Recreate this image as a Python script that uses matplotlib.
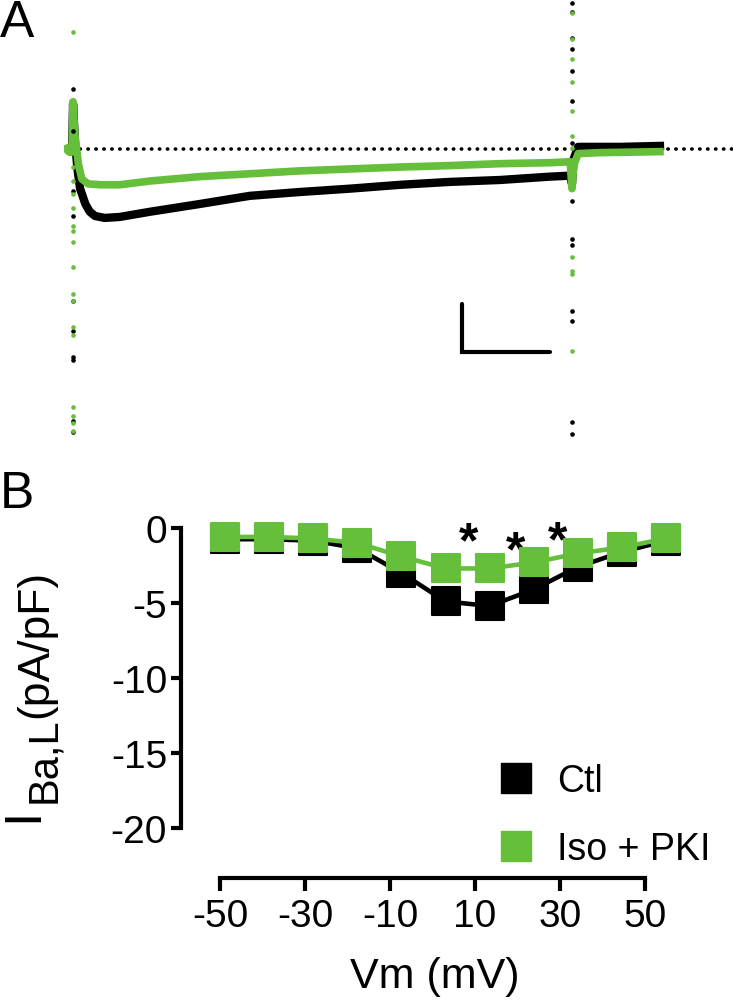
import matplotlib
matplotlib.use("Agg")
import matplotlib.pyplot as plt
from matplotlib.lines import Line2D
from matplotlib.markers import MarkerStyle

plt.rcParams['font.family'] = ['Liberation Sans', 'DejaVu Sans']
plt.rcParams['axes.unicode_minus'] = False

GREEN = '#66bf3a'

# ---- panel A: example current traces (time in ms, current in pA) ----
ctl_t = [-3, -1, 0, 2, 5, 8, 14, 19, 25, 36, 53, 88, 144, 201, 258, 315, 372, 428, 485, 542, 565, 567, 569, 574, 588, 622, 667]
ctl_i = [0, 0, 94, 21, -42, -83, -115, -131, -140, -144, -142, -131, -115, -98, -90, -83, -75, -69, -65, -58, -56, -73, -21, 4, 4, 4, 6]
iso_t = [-6, -1, 0, 2, 6, 10, 17, 31, 53, 88, 144, 201, 258, 315, 372, 428, 485, 542, 565, 567, 569, 574, 599, 667]
iso_i = [0, 0, 98, 31, -31, -63, -73, -75, -75, -67, -58, -52, -46, -42, -38, -35, -31, -29, -27, -83, -35, -10, -8, -6]

# capacitive artifact samples at the start and end of the step
on_t, off_t = 0, 567
ctl_on_art = [125, 38, -88, -140, -317, -379, -433, -440, -567, -590]
iso_on_art = [244, -38, -67, -94, -123, -160, -171, -194, -246, -302, -317, -371, -387, -538, -556, -571, -588]
ctl_off_art = [304, 285, 231, 208, 163, 100, 13, -108, -188, -200, -338, -358, -569, -594]
iso_off_art = [283, 229, 188, 140, 79, 27, 2, -225, -254, -260, -421]

bar_t0, bar_i0 = 442, -423
bar_ms, bar_pa = 100, 100

# ---- panel B: I-V relationship ----
vm = [-50, -40, -30, -20, -10, 0, 10, 20, 30, 40, 50]
ctl_iv = [-0.75, -0.75, -0.85, -1.35, -3.0, -4.9, -5.2, -4.1, -2.6, -1.6, -0.85]
iso_iv = [-0.6, -0.6, -0.7, -1.0, -1.9, -2.7, -2.7, -2.3, -1.7, -1.3, -0.7]
star_vm = [5.3, 15.8, 25.5]
star_i = [-1.0, -1.65, -0.95]
xticks = [-50, -30, -10, 10, 30, 50]
yticks = [0, -5, -10, -15, -20]

W, H = 733, 1003
fig = plt.figure(figsize=(W / 100, H / 100), dpi=100)

def fbox(x0, y0, x1, y1):
    # pixel box (top-left origin) -> figure fraction rect
    return [x0 / W, 1 - y1 / H, (x1 - x0) / W, (y1 - y0) / H]

# panel A
axa = fig.add_axes(fbox(0, 0, W, 470))
axa.set_xlim(-83, 750)
axa.set_ylim(-667, 312)
axa.axis('off')
axa.plot([8, 750], [0, 0], color='black', lw=2.6, ls=(0, (0.1, 2.1)), dash_capstyle='round')
axa.plot(ctl_t, ctl_i, color='black', lw=6, solid_joinstyle='round', zorder=2)
axa.plot(iso_t, iso_i, color=GREEN, lw=5.5, solid_joinstyle='round', zorder=3)
axa.scatter([on_t] * len(ctl_on_art), ctl_on_art, s=11, color='black', lw=0, zorder=4)
axa.scatter([on_t] * len(iso_on_art), iso_on_art, s=11, color=GREEN, lw=0, zorder=4)
axa.scatter([off_t] * len(ctl_off_art), ctl_off_art, s=11, color='black', lw=0, zorder=4)
axa.scatter([off_t] * len(iso_off_art), iso_off_art, s=11, color=GREEN, lw=0, zorder=4)
axa.scatter([-3], [0], s=90, color=GREEN, lw=0, zorder=5)
axa.plot([bar_t0, bar_t0, bar_t0 + bar_ms], [bar_i0 + bar_pa, bar_i0, bar_i0],
         color='black', lw=3, solid_capstyle='round', solid_joinstyle='miter')

# panel B - data axes with y axis
axb = fig.add_axes(fbox(181, 500, 690, 845))
axb.set_xlim(-59.98, 55.44)
axb.set_ylim(-21.07, 1.93)
for s in ['top', 'right', 'bottom']:
    axb.spines[s].set_visible(False)
axb.spines['left'].set_linewidth(3)
axb.spines['left'].set_bounds(-20, 0)
axb.set_yticks(yticks)
axb.set_yticklabels([str(v) for v in yticks])
axb.tick_params(axis='y', direction='out', length=7, width=3, labelsize=28, pad=3)
axb.set_xticks([])
axb.patch.set_visible(False)

sq = MarkerStyle('s', joinstyle='round')
axb.plot(vm, ctl_iv, color='black', lw=3.3, marker=sq, ms=20, mew=1.5, mec='black', mfc='black', zorder=3)
axb.plot(vm, iso_iv, color=GREEN, lw=3.3, marker=sq, ms=20, mew=1.5, mec=GREEN, mfc=GREEN, zorder=4)
for xv, yv in zip(star_vm, star_i):
    axb.text(xv, yv, '*', ha='center', va='center', fontsize=36, fontweight='bold', clip_on=False)

handles = [Line2D([], [], ls='none', marker=MarkerStyle('s', joinstyle='round'), ms=22, mew=1, color='black'),
           Line2D([], [], ls='none', marker=MarkerStyle('s', joinstyle='round'), ms=22, mew=1, color=GREEN)]
fig.legend(handles, ['Ctl', 'Iso + PKI'], loc='upper left', bbox_to_anchor=(497 / W, 1 - 764 / H),
           frameon=False, fontsize=27, handlelength=1.0, handletextpad=0.6, labelspacing=0.85,
           borderpad=0, borderaxespad=0)

# panel B - separate x axis (offset below the y axis)
axx = fig.add_axes(fbox(181, 878, 690, 879))
axx.set_xlim(-59.18, 60.59)
axx.set_ylim(0, 1)
for s in ['top', 'right', 'left']:
    axx.spines[s].set_visible(False)
axx.spines['bottom'].set_linewidth(3)
axx.spines['bottom'].set_bounds(-50, 50)
axx.set_yticks([])
axx.set_xticks(xticks)
axx.set_xticklabels([str(v) for v in xticks])
axx.tick_params(axis='x', direction='out', length=9.5, width=3, labelsize=28, pad=5)
axx.patch.set_visible(False)

fig.text(435 / W, 1 - 988 / H, 'Vm (mV)', ha='center', va='baseline', fontsize=31)

# y label: big I, subscript, units
fig.text(37 / W, 1 - 822 / H, 'I', rotation=90, rotation_mode='anchor', ha='left', va='baseline', fontsize=37)
fig.text(55 / W, 1 - 803 / H, 'Ba,L', rotation=90, rotation_mode='anchor', ha='left', va='baseline', fontsize=30)
fig.text(47 / W, 1 - 718 / H, '(pA/pF)', rotation=90, rotation_mode='anchor', ha='left', va='baseline', fontsize=32)

fig.text(0 / W, 1 - 37 / H, 'A', ha='left', va='baseline', fontsize=37)
fig.text(0 / W, 1 - 508 / H, 'B', ha='left', va='baseline', fontsize=37)

fig.savefig('out.png', dpi=100)
